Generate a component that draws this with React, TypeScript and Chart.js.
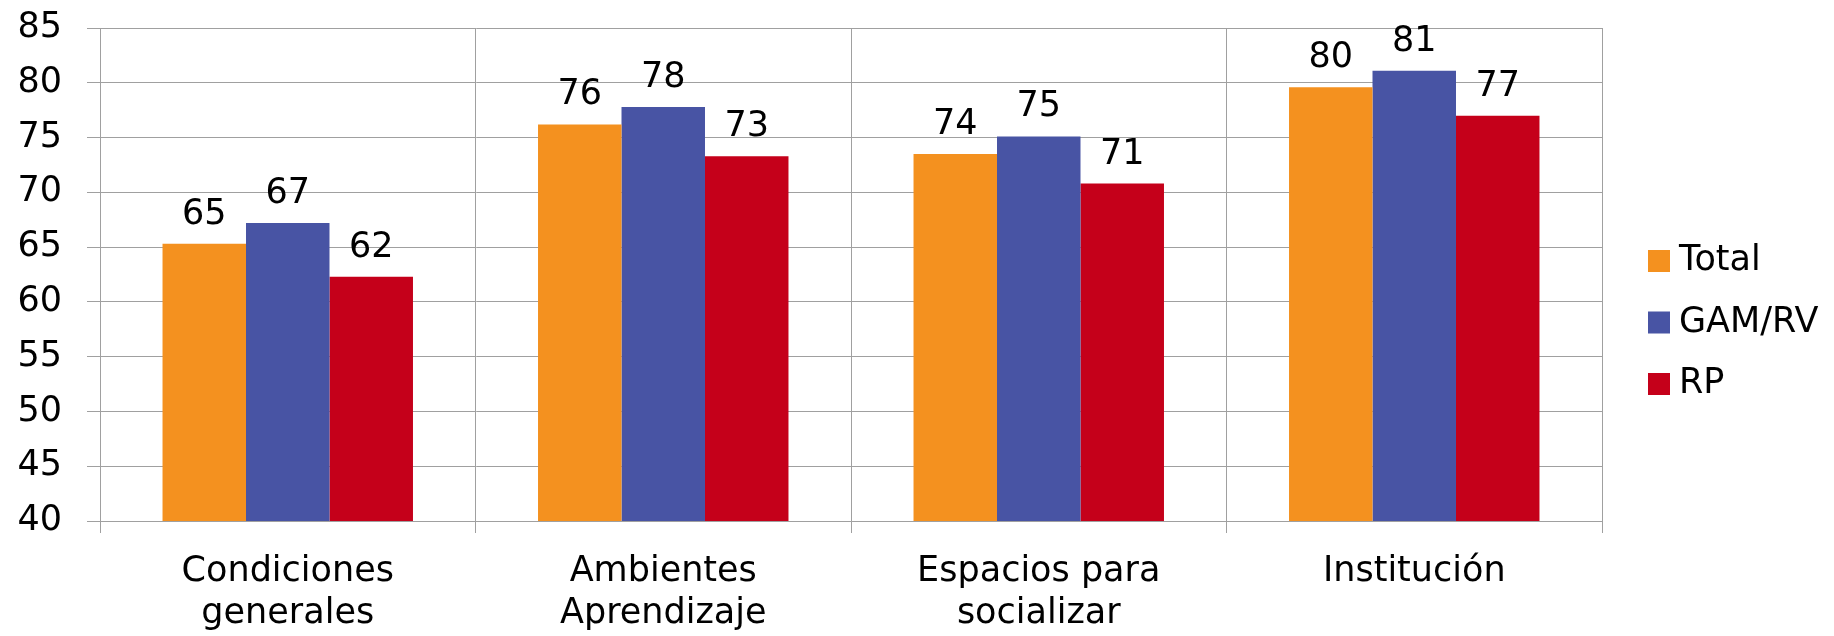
import React, { useEffect, useRef } from "react";
import { Chart, registerables } from "chart.js";

Chart.register(...registerables);

const categories: string[][] = [
  ["Condiciones", "generales"],
  ["Ambientes", "Aprendizaje"],
  ["Espacios para", "socializar"],
  ["Institución"],
];
const seriesNames = ["Total", "GAM/RV", "RP"];
const totalValues = [65.3, 76.2, 73.5, 79.6];
const gamValues = [67.2, 77.8, 75.1, 81.1];
const rpValues = [62.3, 73.3, 70.8, 77.0];
const yMin = 40;
const yMax = 85;
const yStep = 5;

const COLORS = ["#F4911F", "#4854A4", "#C5001A"];
const FONT = '"DejaVu Sans", Verdana, sans-serif';
const GRID = "#A0A0A0";

const valueLabelPlugin = {
  id: "valueLabels",
  afterDatasetsDraw(chart: any) {
    const ctx = chart.ctx;
    ctx.save();
    ctx.font = `35px ${FONT}`;
    ctx.fillStyle = "#000";
    ctx.textAlign = "center";
    ctx.textBaseline = "alphabetic";
    chart.data.datasets.forEach((ds: any, di: number) => {
      const meta = chart.getDatasetMeta(di);
      meta.data.forEach((bar: any, i: number) => {
        const v = ds.data[i];
        ctx.fillText(String(Math.round(v)), bar.x, bar.y - 20);
      });
    });
    ctx.restore();
  },
};

const legendPlugin = {
  id: "customLegend",
  afterDraw(chart: any) {
    const ctx = chart.ctx;
    ctx.save();
    ctx.font = `35px ${FONT}`;
    ctx.textBaseline = "middle";
    ctx.textAlign = "left";
    const x0 = 1648;
    const y0 = 261;
    const gap = 61.5;
    chart.data.datasets.forEach((ds: any, i: number) => {
      const cy = y0 + i * gap;
      ctx.fillStyle = ds.backgroundColor;
      ctx.fillRect(x0, cy - 11, 22, 22);
      ctx.fillStyle = "#000";
      ctx.fillText(ds.label, x0 + 31, cy);
    });
    ctx.restore();
  },
};

export default function App() {
  const ref = useRef<HTMLCanvasElement | null>(null);
  useEffect(() => {
    document.body.style.margin = "0";
    const canvas = ref.current!;
    const chart = new Chart(canvas, {
      type: "bar",
      data: {
        labels: categories,
        datasets: [
          { label: seriesNames[0], data: totalValues, backgroundColor: COLORS[0] },
          { label: seriesNames[1], data: gamValues, backgroundColor: COLORS[1] },
          { label: seriesNames[2], data: rpValues, backgroundColor: COLORS[2] },
        ],
      },
      options: {
        responsive: false,
        animation: false,
        layout: { padding: { top: 28, right: 232, left: 0, bottom: 0 } },
        plugins: {
          legend: { display: false },
          tooltip: { enabled: false },
        },
        datasets: {
          bar: { categoryPercentage: 0.667, barPercentage: 1.0, borderWidth: 0 },
        },
        scales: {
          x: {
            grid: {
              offset: true,
              color: GRID,
              lineWidth: 1,
              tickLength: 12,
              drawTicks: true,
            },
            border: { color: GRID, width: 1 },
            ticks: {
              color: "#000",
              font: { family: FONT, size: 35, lineHeight: 1.2 },
              padding: 18,
              maxRotation: 0,
              autoSkip: false,
            },
            afterFit(scale: any) {
              scale.height = 115;
              scale.paddingLeft = 0;
              scale.paddingRight = 0;
            },
          },
          y: {
            min: yMin,
            max: yMax,
            grid: { color: GRID, lineWidth: 1, tickLength: 13, drawTicks: true },
            border: { color: GRID, width: 1 },
            ticks: {
              stepSize: yStep,
              color: "#000",
              font: { family: FONT, size: 35 },
              padding: 25,
            },
            afterFit(scale: any) {
              scale.width = 100;
              scale.paddingTop = 0;
              scale.paddingBottom = 0;
            },
          },
        },
      },
      plugins: [valueLabelPlugin, legendPlugin],
    });
    return () => chart.destroy();
  }, []);
  return (
    <div style={{ width: 1834, height: 636, background: "#fff" }}>
      <canvas ref={ref} width={1834} height={636} style={{ display: "block" }} />
    </div>
  );
}
